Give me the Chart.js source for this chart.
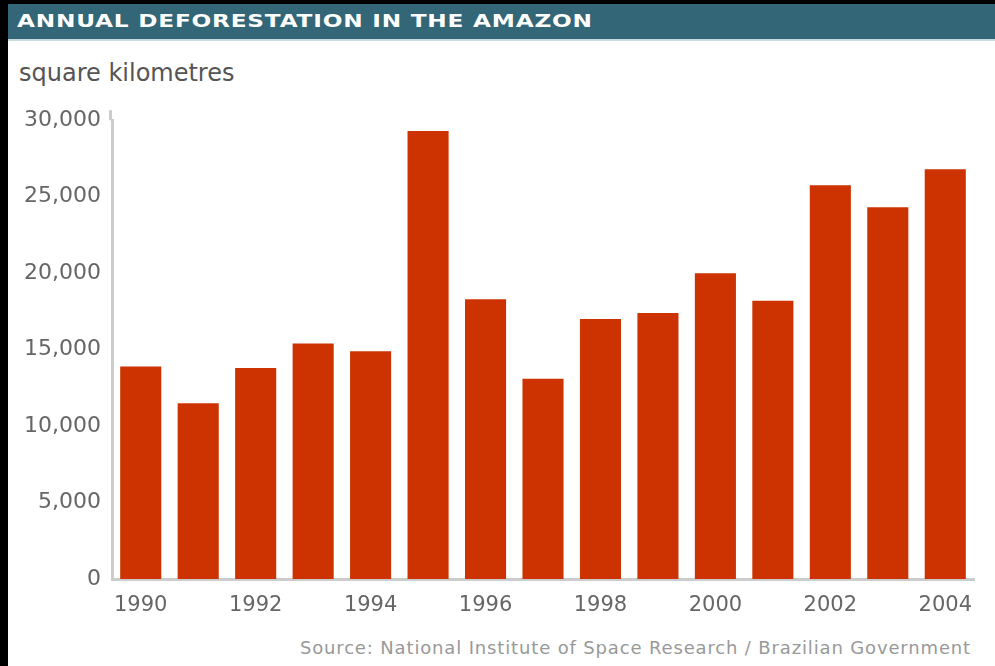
<!DOCTYPE html>
<html lang="en">
<head>
    <meta charset="UTF-8">
    <title>Annual deforestation in the Amazon</title>
    <script src="https://cdn.jsdelivr.net/npm/chart.js"></script>
    <style>
        body {
            margin: 0;
            background: #000;
            width: 995px;
            height: 666px;
            overflow: hidden;
            font-family: "DejaVu Sans", sans-serif;
        }
        .painel {
            position: absolute;
            left: 8px;
            top: 4px;
            width: 987px;
            height: 662px;
            background: #fff;
        }
        .titulo {
            height: 35px;
            background: #336677;
            border-bottom: 2px solid #c9dade;
            color: #fff;
            font-weight: bold;
            font-size: 18px;
            line-height: 33px;
            letter-spacing: 0.6px;
            padding-left: 9px;
            white-space: nowrap;
        }
        .titulo span {
            display: inline-block;
            transform: scaleX(1.29);
            transform-origin: left center;
        }
        .unidade {
            position: absolute;
            left: 11px;
            top: 55px;
            font-size: 24px;
            color: #555;
        }
        .fonte {
            position: absolute;
            right: 24px;
            top: 633px;
            font-size: 18px;
            letter-spacing: 0.85px;
            color: #999;
            white-space: nowrap;
        }
        .grafico-box {
            position: absolute;
            left: 0;
            top: 96px;
            width: 995px;
            height: 544px;
        }
    </style>
</head>
<body>
    <div class="painel">
        <div class="titulo"><span>ANNUAL DEFORESTATION IN THE AMAZON</span></div>
        <div class="unidade">square kilometres</div>
        <div class="fonte">Source: National Institute of Space Research / Brazilian Government</div>
    </div>
    <div class="grafico-box">
        <canvas id="grafico"></canvas>
    </div>

    <script>
        // Anos e área desmatada (km²)
        const anos = ['1990', '1991', '1992', '1993', '1994', '1995', '1996', '1997',
                      '1998', '1999', '2000', '2001', '2002', '2003', '2004'];
        const areas = [13900, 11500, 13800, 15400, 14900, 29300, 18300, 13100,
                       17000, 17400, 20000, 18200, 25750, 24300, 26800];

        // Eixo Y
        const yMax = 30000;
        const yPasso = 5000;

        const corTexto = '#666';
        const corEixo = '#cccccc';

        // Prolonga a linha do eixo Y um pouco acima do topo
        const eixoAlto = {
            id: 'eixoAlto',
            afterDraw(chart) {
                const { ctx, chartArea } = chart;
                ctx.save();
                ctx.strokeStyle = corEixo;
                ctx.lineWidth = 3;
                ctx.beginPath();
                ctx.moveTo(chartArea.left - 1.5, chartArea.top - 10);
                ctx.lineTo(chartArea.left - 1.5, chartArea.top);
                ctx.stroke();
                ctx.restore();
            }
        };

        const ctx = document.getElementById('grafico').getContext('2d');

        new Chart(ctx, {
            type: 'bar',
            data: {
                labels: anos,
                datasets: [{
                    data: areas,
                    backgroundColor: '#cc3300',
                    borderWidth: 0,
                    categoryPercentage: 1,
                    barPercentage: 0.715
                }]
            },
            options: {
                responsive: true,
                maintainAspectRatio: false,
                animation: false,
                layout: {
                    padding: { top: 0, right: 21, left: 0, bottom: 0 }
                },
                plugins: {
                    legend: { display: false },
                    tooltip: { enabled: false }
                },
                scales: {
                    x: {
                        grid: { display: false, drawTicks: false },
                        border: { display: true, color: corEixo, width: 3 },
                        ticks: {
                            color: corTexto,
                            font: { family: 'DejaVu Sans', size: 21 },
                            padding: 14,
                            autoSkip: false,
                            maxRotation: 0,
                            // só os anos pares aparecem
                            callback: (valor, i) => (i % 2 === 0 ? anos[i] : '')
                        },
                        afterFit: (escala) => { escala.height = 61; }
                    },
                    y: {
                        min: 0,
                        max: yMax,
                        grid: { display: false, drawTicks: false },
                        border: { display: true, color: corEixo, width: 3 },
                        ticks: {
                            stepSize: yPasso,
                            color: corTexto,
                            font: { family: 'DejaVu Sans', size: 22 },
                            padding: 11,
                            callback: (valor) => valor.toLocaleString('en-US')
                        },
                        afterFit: (escala) => { escala.width = 112; }
                    }
                }
            },
            plugins: [eixoAlto]
        });
    </script>
</body>
</html>
